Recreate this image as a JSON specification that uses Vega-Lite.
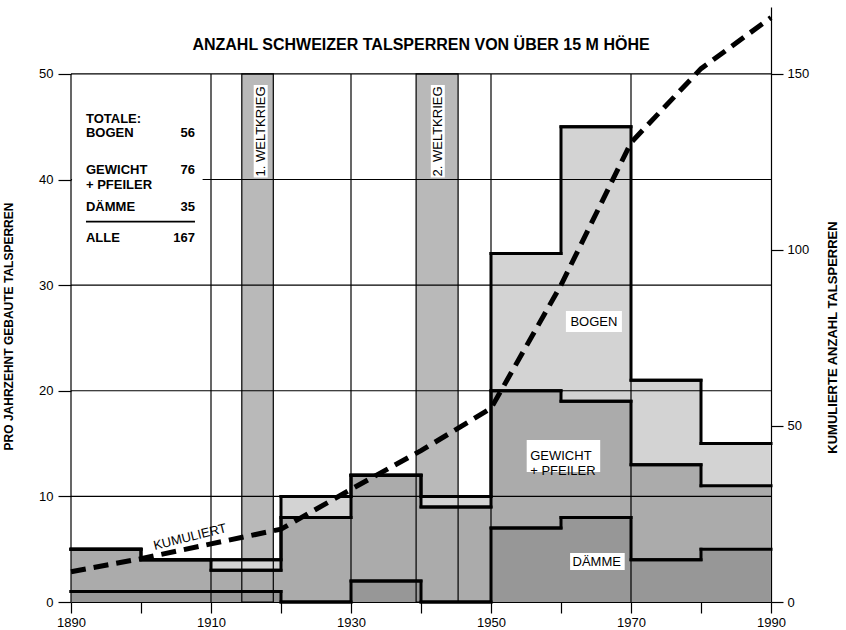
{
  "$schema": "https://vega.github.io/schema/vega-lite/v6.json",
  "width": 700,
  "height": 595,
  "autosize": {"type": "none"},
  "padding": {"left": 71, "top": 7, "right": 75, "bottom": 28},
  "background": "white",
  "config": {
    "font": "Liberation Sans",
    "view": {"stroke": null},
    "axis": {
      "domainColor": "black", "tickColor": "black", "labelColor": "black", "titleColor": "black",
      "domainWidth": 1.2, "tickWidth": 1.2, "labelFont": "Liberation Sans", "labelFontSize": 13,
      "titleFont": "Liberation Sans", "titleFontWeight": "bold", "grid": false
    },
    "text": {"font": "Liberation Sans", "fontSize": 13, "color": "black"}
  },
  "datasets": {
    "dekaden": [
      {"start": 1890, "ende": 1900, "typ": "Dämme", "anzahl": 1},
      {"start": 1890, "ende": 1900, "typ": "Gewicht", "anzahl": 4},
      {"start": 1890, "ende": 1900, "typ": "Bogen", "anzahl": 0},
      {"start": 1900, "ende": 1910, "typ": "Dämme", "anzahl": 1},
      {"start": 1900, "ende": 1910, "typ": "Gewicht", "anzahl": 3},
      {"start": 1900, "ende": 1910, "typ": "Bogen", "anzahl": 0},
      {"start": 1910, "ende": 1920, "typ": "Dämme", "anzahl": 1},
      {"start": 1910, "ende": 1920, "typ": "Gewicht", "anzahl": 2},
      {"start": 1910, "ende": 1920, "typ": "Bogen", "anzahl": 1},
      {"start": 1920, "ende": 1930, "typ": "Dämme", "anzahl": 0},
      {"start": 1920, "ende": 1930, "typ": "Gewicht", "anzahl": 8},
      {"start": 1920, "ende": 1930, "typ": "Bogen", "anzahl": 2},
      {"start": 1930, "ende": 1940, "typ": "Dämme", "anzahl": 2},
      {"start": 1930, "ende": 1940, "typ": "Gewicht", "anzahl": 10},
      {"start": 1930, "ende": 1940, "typ": "Bogen", "anzahl": 0},
      {"start": 1940, "ende": 1950, "typ": "Dämme", "anzahl": 0},
      {"start": 1940, "ende": 1950, "typ": "Gewicht", "anzahl": 9},
      {"start": 1940, "ende": 1950, "typ": "Bogen", "anzahl": 1},
      {"start": 1950, "ende": 1960, "typ": "Dämme", "anzahl": 7},
      {"start": 1950, "ende": 1960, "typ": "Gewicht", "anzahl": 13},
      {"start": 1950, "ende": 1960, "typ": "Bogen", "anzahl": 13},
      {"start": 1960, "ende": 1970, "typ": "Dämme", "anzahl": 8},
      {"start": 1960, "ende": 1970, "typ": "Gewicht", "anzahl": 11},
      {"start": 1960, "ende": 1970, "typ": "Bogen", "anzahl": 26},
      {"start": 1970, "ende": 1980, "typ": "Dämme", "anzahl": 4},
      {"start": 1970, "ende": 1980, "typ": "Gewicht", "anzahl": 9},
      {"start": 1970, "ende": 1980, "typ": "Bogen", "anzahl": 8},
      {"start": 1980, "ende": 1990, "typ": "Dämme", "anzahl": 5},
      {"start": 1980, "ende": 1990, "typ": "Gewicht", "anzahl": 6},
      {"start": 1980, "ende": 1990, "typ": "Bogen", "anzahl": 4}
    ],
    "kumuliert": [
      {"jahr": 1890, "summe": 8.6},
      {"jahr": 1900, "summe": 12.3},
      {"jahr": 1910, "summe": 16.5},
      {"jahr": 1920, "summe": 20.7},
      {"jahr": 1930, "summe": 32},
      {"jahr": 1940, "summe": 43},
      {"jahr": 1950, "summe": 55},
      {"jahr": 1960, "summe": 90},
      {"jahr": 1970, "summe": 130.5},
      {"jahr": 1980, "summe": 151.5},
      {"jahr": 1990, "summe": 166}
    ],
    "kriege": [
      {"name": "1. WELTKRIEG", "von": 1914.4, "bis": 1918.9, "mitte": 1917.1, "b1": 1916.1, "b2": 1918.1},
      {"name": "2. WELTKRIEG", "von": 1939.3, "bis": 1945.3, "mitte": 1942.4, "b1": 1941.4, "b2": 1943.4}
    ],
    "boxen": [
      {"x1": 1960.7, "x2": 1968.7, "y1": 25.56, "y2": 27.55},
      {"x1": 1955.1, "x2": 1965.6, "y1": 12.31, "y2": 15.34},
      {"x1": 1961.3, "x2": 1969.1, "y1": 3.03, "y2": 4.64},
      {"x1": 1890.15, "x2": 1908.8, "y1": 33.3, "y2": 47.1}
    ],
    "beschriftung": [
      {"t": "BOGEN", "x": 1964.7, "y": 26.54},
      {"t": "DÄMME", "x": 1965.1, "y": 3.83}
    ],
    "legende": [
      {"t": "TOTALE:", "y": 45.73},
      {"t": "BOGEN", "y": 44.43},
      {"t": "GEWICHT\n+ PFEILER", "y": 40.9},
      {"t": "DÄMME", "y": 37.43},
      {"t": "ALLE", "y": 34.49}
    ],
    "totale": [
      {"t": "56", "y": 44.43},
      {"t": "76", "y": 40.9},
      {"t": "35", "y": 37.43},
      {"t": "167", "y": 34.49}
    ]
  },
  "layer": [
    {
      "layer": [
        {
          "data": {"name": "kriege"},
          "mark": {"type": "rect", "fill": "#b9b9b9"},
          "encoding": {
            "x": {"field": "von", "type": "quantitative", "scale": {"domain": [1890, 1990], "nice": false, "zero": false}, "axis": {"orient": "bottom", "values": [1890, 1900, 1910, 1920, 1930, 1940, 1950, 1960, 1970, 1980, 1990], "format": "d", "labelExpr": "(datum.value - 1890) % 20 == 0 ? datum.label : ''", "tickSize": 11, "labelPadding": 3, "title": null, "labelFlush": false, "labelOverlap": false}},
            "x2": {"field": "bis"},
            "y": {"datum": 0, "type": "quantitative", "scale": {"domain": [0, 56.3333], "nice": false, "zero": true}, "axis": {"orient": "left", "values": [0, 10, 20, 30, 40, 50], "tickSize": 13, "labelPadding": 5, "domain": false, "title": "PRO JAHRZEHNT GEBAUTE TALSPERREN", "titleFontSize": 12, "titleAngle": -90, "titleX": -63, "titleY": 319, "titleBaseline": "middle", "titleAlign": "center"}},
            "y2": {"datum": 50}
          }
        },
        {
          "data": {"name": "dekaden"},
          "transform": [
            {"calculate": "indexof(['Dämme','Gewicht','Bogen'], datum.typ)", "as": "ord"},
            {"stack": "anzahl", "groupby": ["start"], "sort": [{"field": "ord", "order": "ascending"}], "as": ["lo", "hi"]}
          ],
          "mark": {"type": "rect"},
          "encoding": {
            "x": {"field": "start", "type": "quantitative", "scale": {"domain": [1890, 1990], "nice": false, "zero": false}, "axis": {"orient": "bottom", "values": [1890, 1900, 1910, 1920, 1930, 1940, 1950, 1960, 1970, 1980, 1990], "format": "d", "labelExpr": "(datum.value - 1890) % 20 == 0 ? datum.label : ''", "tickSize": 11, "labelPadding": 3, "title": null, "labelFlush": false, "labelOverlap": false}},
            "x2": {"field": "ende"},
            "y": {"field": "lo", "type": "quantitative", "scale": {"domain": [0, 56.3333], "nice": false, "zero": true}, "axis": {"orient": "left", "values": [0, 10, 20, 30, 40, 50], "tickSize": 13, "labelPadding": 5, "domain": false, "title": "PRO JAHRZEHNT GEBAUTE TALSPERREN", "titleFontSize": 12, "titleAngle": -90, "titleX": -63, "titleY": 319, "titleBaseline": "middle", "titleAlign": "center"}},
            "y2": {"field": "hi"},
            "color": {
              "field": "typ", "type": "nominal",
              "scale": {"domain": ["Dämme", "Gewicht", "Bogen"], "range": ["#979797", "#ababab", "#d3d3d3"]},
              "legend": null
            }
          }
        },
        {
          "data": {"values": [{"g": 10}, {"g": 20}, {"g": 30}, {"g": 40}, {"g": 50}]},
          "mark": {"type": "rule", "color": "black", "strokeWidth": 1.2},
          "encoding": {
            "y": {"field": "g", "type": "quantitative", "scale": {"domain": [0, 56.3333], "nice": false, "zero": true}, "axis": {"orient": "left", "values": [0, 10, 20, 30, 40, 50], "tickSize": 13, "labelPadding": 5, "domain": false, "title": "PRO JAHRZEHNT GEBAUTE TALSPERREN", "titleFontSize": 12, "titleAngle": -90, "titleX": -63, "titleY": 319, "titleBaseline": "middle", "titleAlign": "center"}},
            "x": {"datum": 1890, "type": "quantitative", "scale": {"domain": [1890, 1990], "nice": false, "zero": false}, "axis": {"orient": "bottom", "values": [1890, 1900, 1910, 1920, 1930, 1940, 1950, 1960, 1970, 1980, 1990], "format": "d", "labelExpr": "(datum.value - 1890) % 20 == 0 ? datum.label : ''", "tickSize": 11, "labelPadding": 3, "title": null, "labelFlush": false, "labelOverlap": false}},
            "x2": {"datum": 1990}
          }
        },
        {
          "data": {"values": [{"j": 1890}, {"j": 1910}, {"j": 1930}, {"j": 1950}, {"j": 1970}]},
          "mark": {"type": "rule", "color": "black", "strokeWidth": 1.2},
          "encoding": {
            "x": {"field": "j", "type": "quantitative", "scale": {"domain": [1890, 1990], "nice": false, "zero": false}, "axis": {"orient": "bottom", "values": [1890, 1900, 1910, 1920, 1930, 1940, 1950, 1960, 1970, 1980, 1990], "format": "d", "labelExpr": "(datum.value - 1890) % 20 == 0 ? datum.label : ''", "tickSize": 11, "labelPadding": 3, "title": null, "labelFlush": false, "labelOverlap": false}},
            "y": {"datum": 0, "type": "quantitative", "scale": {"domain": [0, 56.3333], "nice": false, "zero": true}, "axis": {"orient": "left", "values": [0, 10, 20, 30, 40, 50], "tickSize": 13, "labelPadding": 5, "domain": false, "title": "PRO JAHRZEHNT GEBAUTE TALSPERREN", "titleFontSize": 12, "titleAngle": -90, "titleX": -63, "titleY": 319, "titleBaseline": "middle", "titleAlign": "center"}},
            "y2": {"datum": 50}
          }
        },
        {
          "data": {"name": "kriege"},
          "mark": {"type": "rect", "fillOpacity": 0, "stroke": "black", "strokeWidth": 1.2},
          "encoding": {
            "x": {"field": "von", "type": "quantitative", "scale": {"domain": [1890, 1990], "nice": false, "zero": false}, "axis": {"orient": "bottom", "values": [1890, 1900, 1910, 1920, 1930, 1940, 1950, 1960, 1970, 1980, 1990], "format": "d", "labelExpr": "(datum.value - 1890) % 20 == 0 ? datum.label : ''", "tickSize": 11, "labelPadding": 3, "title": null, "labelFlush": false, "labelOverlap": false}},
            "x2": {"field": "bis"},
            "y": {"datum": 0, "type": "quantitative", "scale": {"domain": [0, 56.3333], "nice": false, "zero": true}, "axis": {"orient": "left", "values": [0, 10, 20, 30, 40, 50], "tickSize": 13, "labelPadding": 5, "domain": false, "title": "PRO JAHRZEHNT GEBAUTE TALSPERREN", "titleFontSize": 12, "titleAngle": -90, "titleX": -63, "titleY": 319, "titleBaseline": "middle", "titleAlign": "center"}},
            "y2": {"datum": 50}
          }
        },
        {
          "data": {"name": "dekaden"},
          "transform": [
            {"calculate": "indexof(['Dämme','Gewicht','Bogen'], datum.typ)", "as": "ord"},
            {"stack": "anzahl", "groupby": ["start"], "sort": [{"field": "ord", "order": "ascending"}], "as": ["lo", "hi"]}
          ],
          "mark": {"type": "rule", "color": "black", "strokeWidth": 3, "strokeCap": "square"},
          "encoding": {
            "x": {"field": "start", "type": "quantitative", "scale": {"domain": [1890, 1990], "nice": false, "zero": false}, "axis": {"orient": "bottom", "values": [1890, 1900, 1910, 1920, 1930, 1940, 1950, 1960, 1970, 1980, 1990], "format": "d", "labelExpr": "(datum.value - 1890) % 20 == 0 ? datum.label : ''", "tickSize": 11, "labelPadding": 3, "title": null, "labelFlush": false, "labelOverlap": false}},
            "x2": {"field": "ende"},
            "y": {"field": "hi", "type": "quantitative", "scale": {"domain": [0, 56.3333], "nice": false, "zero": true}, "axis": {"orient": "left", "values": [0, 10, 20, 30, 40, 50], "tickSize": 13, "labelPadding": 5, "domain": false, "title": "PRO JAHRZEHNT GEBAUTE TALSPERREN", "titleFontSize": 12, "titleAngle": -90, "titleX": -63, "titleY": 319, "titleBaseline": "middle", "titleAlign": "center"}}
          }
        },
        {
          "data": {"name": "dekaden"},
          "transform": [
            {"calculate": "indexof(['Dämme','Gewicht','Bogen'], datum.typ)", "as": "ord"},
            {"stack": "anzahl", "groupby": ["start"], "sort": [{"field": "ord", "order": "ascending"}], "as": ["lo", "hi"]}
          ],
          "mark": {"type": "line", "color": "black", "strokeWidth": 3, "interpolate": "step-after", "strokeCap": "square"},
          "encoding": {
            "x": {"field": "start", "type": "quantitative", "scale": {"domain": [1890, 1990], "nice": false, "zero": false}, "axis": {"orient": "bottom", "values": [1890, 1900, 1910, 1920, 1930, 1940, 1950, 1960, 1970, 1980, 1990], "format": "d", "labelExpr": "(datum.value - 1890) % 20 == 0 ? datum.label : ''", "tickSize": 11, "labelPadding": 3, "title": null, "labelFlush": false, "labelOverlap": false}},
            "y": {"field": "hi", "type": "quantitative", "scale": {"domain": [0, 56.3333], "nice": false, "zero": true}, "axis": {"orient": "left", "values": [0, 10, 20, 30, 40, 50], "tickSize": 13, "labelPadding": 5, "domain": false, "title": "PRO JAHRZEHNT GEBAUTE TALSPERREN", "titleFontSize": 12, "titleAngle": -90, "titleX": -63, "titleY": 319, "titleBaseline": "middle", "titleAlign": "center"}},
            "detail": {"field": "typ", "type": "nominal"}
          }
        },
        {
          "data": {"name": "boxen"},
          "mark": {"type": "rect", "fill": "white"},
          "encoding": {
            "x": {"field": "x1", "type": "quantitative", "scale": {"domain": [1890, 1990], "nice": false, "zero": false}, "axis": {"orient": "bottom", "values": [1890, 1900, 1910, 1920, 1930, 1940, 1950, 1960, 1970, 1980, 1990], "format": "d", "labelExpr": "(datum.value - 1890) % 20 == 0 ? datum.label : ''", "tickSize": 11, "labelPadding": 3, "title": null, "labelFlush": false, "labelOverlap": false}},
            "x2": {"field": "x2"},
            "y": {"field": "y1", "type": "quantitative", "scale": {"domain": [0, 56.3333], "nice": false, "zero": true}, "axis": {"orient": "left", "values": [0, 10, 20, 30, 40, 50], "tickSize": 13, "labelPadding": 5, "domain": false, "title": "PRO JAHRZEHNT GEBAUTE TALSPERREN", "titleFontSize": 12, "titleAngle": -90, "titleX": -63, "titleY": 319, "titleBaseline": "middle", "titleAlign": "center"}},
            "y2": {"field": "y2"}
          }
        },
        {
          "data": {"name": "kriege"},
          "mark": {"type": "rect", "fill": "white"},
          "encoding": {
            "x": {"field": "b1", "type": "quantitative", "scale": {"domain": [1890, 1990], "nice": false, "zero": false}, "axis": {"orient": "bottom", "values": [1890, 1900, 1910, 1920, 1930, 1940, 1950, 1960, 1970, 1980, 1990], "format": "d", "labelExpr": "(datum.value - 1890) % 20 == 0 ? datum.label : ''", "tickSize": 11, "labelPadding": 3, "title": null, "labelFlush": false, "labelOverlap": false}},
            "x2": {"field": "b2"},
            "y": {"datum": 40.2, "type": "quantitative", "scale": {"domain": [0, 56.3333], "nice": false, "zero": true}, "axis": {"orient": "left", "values": [0, 10, 20, 30, 40, 50], "tickSize": 13, "labelPadding": 5, "domain": false, "title": "PRO JAHRZEHNT GEBAUTE TALSPERREN", "titleFontSize": 12, "titleAngle": -90, "titleX": -63, "titleY": 319, "titleBaseline": "middle", "titleAlign": "center"}},
            "y2": {"datum": 48.95}
          }
        },
        {
          "data": {"name": "kriege"},
          "mark": {"type": "text", "angle": 270, "align": "center", "baseline": "middle", "fontSize": 13},
          "encoding": {
            "x": {"field": "mitte", "type": "quantitative", "scale": {"domain": [1890, 1990], "nice": false, "zero": false}, "axis": {"orient": "bottom", "values": [1890, 1900, 1910, 1920, 1930, 1940, 1950, 1960, 1970, 1980, 1990], "format": "d", "labelExpr": "(datum.value - 1890) % 20 == 0 ? datum.label : ''", "tickSize": 11, "labelPadding": 3, "title": null, "labelFlush": false, "labelOverlap": false}},
            "y": {"datum": 44.55, "type": "quantitative", "scale": {"domain": [0, 56.3333], "nice": false, "zero": true}, "axis": {"orient": "left", "values": [0, 10, 20, 30, 40, 50], "tickSize": 13, "labelPadding": 5, "domain": false, "title": "PRO JAHRZEHNT GEBAUTE TALSPERREN", "titleFontSize": 12, "titleAngle": -90, "titleX": -63, "titleY": 319, "titleBaseline": "middle", "titleAlign": "center"}},
            "text": {"field": "name", "type": "nominal"}
          }
        },
        {
          "data": {"name": "beschriftung"},
          "mark": {"type": "text", "align": "center", "baseline": "middle", "fontSize": 13},
          "encoding": {
            "x": {"field": "x", "type": "quantitative", "scale": {"domain": [1890, 1990], "nice": false, "zero": false}, "axis": {"orient": "bottom", "values": [1890, 1900, 1910, 1920, 1930, 1940, 1950, 1960, 1970, 1980, 1990], "format": "d", "labelExpr": "(datum.value - 1890) % 20 == 0 ? datum.label : ''", "tickSize": 11, "labelPadding": 3, "title": null, "labelFlush": false, "labelOverlap": false}},
            "y": {"field": "y", "type": "quantitative", "scale": {"domain": [0, 56.3333], "nice": false, "zero": true}, "axis": {"orient": "left", "values": [0, 10, 20, 30, 40, 50], "tickSize": 13, "labelPadding": 5, "domain": false, "title": "PRO JAHRZEHNT GEBAUTE TALSPERREN", "titleFontSize": 12, "titleAngle": -90, "titleX": -63, "titleY": 319, "titleBaseline": "middle", "titleAlign": "center"}},
            "text": {"field": "t", "type": "nominal"}
          }
        },
        {
          "data": {"values": [{"t": "GEWICHT\n+ PFEILER"}]},
          "mark": {"type": "text", "align": "left", "baseline": "middle", "fontSize": 13, "lineBreak": "\n", "lineHeight": 15},
          "encoding": {
            "x": {"datum": 1955.6, "type": "quantitative", "scale": {"domain": [1890, 1990], "nice": false, "zero": false}, "axis": {"orient": "bottom", "values": [1890, 1900, 1910, 1920, 1930, 1940, 1950, 1960, 1970, 1980, 1990], "format": "d", "labelExpr": "(datum.value - 1890) % 20 == 0 ? datum.label : ''", "tickSize": 11, "labelPadding": 3, "title": null, "labelFlush": false, "labelOverlap": false}},
            "y": {"datum": 13.78, "type": "quantitative", "scale": {"domain": [0, 56.3333], "nice": false, "zero": true}, "axis": {"orient": "left", "values": [0, 10, 20, 30, 40, 50], "tickSize": 13, "labelPadding": 5, "domain": false, "title": "PRO JAHRZEHNT GEBAUTE TALSPERREN", "titleFontSize": 12, "titleAngle": -90, "titleX": -63, "titleY": 319, "titleBaseline": "middle", "titleAlign": "center"}},
            "text": {"field": "t", "type": "nominal"}
          }
        },
        {
          "data": {"values": [{"t": "KUMULIERT"}]},
          "mark": {"type": "text", "align": "center", "baseline": "middle", "fontSize": 13, "angle": -14},
          "encoding": {
            "x": {"datum": 1907.0, "type": "quantitative", "scale": {"domain": [1890, 1990], "nice": false, "zero": false}, "axis": {"orient": "bottom", "values": [1890, 1900, 1910, 1920, 1930, 1940, 1950, 1960, 1970, 1980, 1990], "format": "d", "labelExpr": "(datum.value - 1890) % 20 == 0 ? datum.label : ''", "tickSize": 11, "labelPadding": 3, "title": null, "labelFlush": false, "labelOverlap": false}},
            "y": {"datum": 6.15, "type": "quantitative", "scale": {"domain": [0, 56.3333], "nice": false, "zero": true}, "axis": {"orient": "left", "values": [0, 10, 20, 30, 40, 50], "tickSize": 13, "labelPadding": 5, "domain": false, "title": "PRO JAHRZEHNT GEBAUTE TALSPERREN", "titleFontSize": 12, "titleAngle": -90, "titleX": -63, "titleY": 319, "titleBaseline": "middle", "titleAlign": "center"}},
            "text": {"field": "t", "type": "nominal"}
          }
        },
        {
          "data": {"name": "legende"},
          "mark": {"type": "text", "align": "left", "baseline": "middle", "fontSize": 13, "fontWeight": "bold", "lineBreak": "\n", "lineHeight": 15},
          "encoding": {
            "x": {"datum": 1892.14, "type": "quantitative", "scale": {"domain": [1890, 1990], "nice": false, "zero": false}, "axis": {"orient": "bottom", "values": [1890, 1900, 1910, 1920, 1930, 1940, 1950, 1960, 1970, 1980, 1990], "format": "d", "labelExpr": "(datum.value - 1890) % 20 == 0 ? datum.label : ''", "tickSize": 11, "labelPadding": 3, "title": null, "labelFlush": false, "labelOverlap": false}},
            "y": {"field": "y", "type": "quantitative", "scale": {"domain": [0, 56.3333], "nice": false, "zero": true}, "axis": {"orient": "left", "values": [0, 10, 20, 30, 40, 50], "tickSize": 13, "labelPadding": 5, "domain": false, "title": "PRO JAHRZEHNT GEBAUTE TALSPERREN", "titleFontSize": 12, "titleAngle": -90, "titleX": -63, "titleY": 319, "titleBaseline": "middle", "titleAlign": "center"}},
            "text": {"field": "t", "type": "nominal"}
          }
        },
        {
          "data": {"name": "totale"},
          "mark": {"type": "text", "align": "right", "baseline": "middle", "fontSize": 13, "fontWeight": "bold"},
          "encoding": {
            "x": {"datum": 1907.71, "type": "quantitative", "scale": {"domain": [1890, 1990], "nice": false, "zero": false}, "axis": {"orient": "bottom", "values": [1890, 1900, 1910, 1920, 1930, 1940, 1950, 1960, 1970, 1980, 1990], "format": "d", "labelExpr": "(datum.value - 1890) % 20 == 0 ? datum.label : ''", "tickSize": 11, "labelPadding": 3, "title": null, "labelFlush": false, "labelOverlap": false}},
            "y": {"field": "y", "type": "quantitative", "scale": {"domain": [0, 56.3333], "nice": false, "zero": true}, "axis": {"orient": "left", "values": [0, 10, 20, 30, 40, 50], "tickSize": 13, "labelPadding": 5, "domain": false, "title": "PRO JAHRZEHNT GEBAUTE TALSPERREN", "titleFontSize": 12, "titleAngle": -90, "titleX": -63, "titleY": 319, "titleBaseline": "middle", "titleAlign": "center"}},
            "text": {"field": "t", "type": "nominal"}
          }
        },
        {
          "data": {"values": [{"s": 1}]},
          "mark": {"type": "rule", "color": "black", "strokeWidth": 1.6},
          "encoding": {
            "x": {"datum": 1892.14, "type": "quantitative", "scale": {"domain": [1890, 1990], "nice": false, "zero": false}, "axis": {"orient": "bottom", "values": [1890, 1900, 1910, 1920, 1930, 1940, 1950, 1960, 1970, 1980, 1990], "format": "d", "labelExpr": "(datum.value - 1890) % 20 == 0 ? datum.label : ''", "tickSize": 11, "labelPadding": 3, "title": null, "labelFlush": false, "labelOverlap": false}},
            "x2": {"datum": 1907.71},
            "y": {"datum": 36.01, "type": "quantitative", "scale": {"domain": [0, 56.3333], "nice": false, "zero": true}, "axis": {"orient": "left", "values": [0, 10, 20, 30, 40, 50], "tickSize": 13, "labelPadding": 5, "domain": false, "title": "PRO JAHRZEHNT GEBAUTE TALSPERREN", "titleFontSize": 12, "titleAngle": -90, "titleX": -63, "titleY": 319, "titleBaseline": "middle", "titleAlign": "center"}}
          }
        },
        {
          "data": {"values": [{"t": "ANZAHL SCHWEIZER TALSPERREN VON ÜBER 15 M HÖHE"}]},
          "mark": {"type": "text", "align": "center", "baseline": "middle", "fontSize": 16, "fontWeight": "bold"},
          "encoding": {
            "x": {"datum": 1940, "type": "quantitative", "scale": {"domain": [1890, 1990], "nice": false, "zero": false}, "axis": {"orient": "bottom", "values": [1890, 1900, 1910, 1920, 1930, 1940, 1950, 1960, 1970, 1980, 1990], "format": "d", "labelExpr": "(datum.value - 1890) % 20 == 0 ? datum.label : ''", "tickSize": 11, "labelPadding": 3, "title": null, "labelFlush": false, "labelOverlap": false}},
            "y": {"datum": 52.74, "type": "quantitative", "scale": {"domain": [0, 56.3333], "nice": false, "zero": true}, "axis": {"orient": "left", "values": [0, 10, 20, 30, 40, 50], "tickSize": 13, "labelPadding": 5, "domain": false, "title": "PRO JAHRZEHNT GEBAUTE TALSPERREN", "titleFontSize": 12, "titleAngle": -90, "titleX": -63, "titleY": 319, "titleBaseline": "middle", "titleAlign": "center"}},
            "text": {"field": "t", "type": "nominal"}
          }
        }
      ]
    },
    {
      "data": {"name": "kumuliert"},
      "mark": {"type": "line", "color": "black", "strokeWidth": 5, "strokeDash": [15, 8], "strokeCap": "butt"},
      "encoding": {
        "x": {"field": "jahr", "type": "quantitative", "scale": {"domain": [1890, 1990], "nice": false, "zero": false}, "axis": {"orient": "bottom", "values": [1890, 1900, 1910, 1920, 1930, 1940, 1950, 1960, 1970, 1980, 1990], "format": "d", "labelExpr": "(datum.value - 1890) % 20 == 0 ? datum.label : ''", "tickSize": 11, "labelPadding": 3, "title": null, "labelFlush": false, "labelOverlap": false}},
        "y": {
          "field": "summe", "type": "quantitative",
          "scale": {"domain": [0, 169], "nice": false, "zero": true},
          "axis": {
            "orient": "right", "values": [0, 50, 100, 150], "tickSize": 12, "labelPadding": 4, "domain": true,
            "title": "KUMULIERTE ANZAHL TALSPERREN", "titleFontSize": 13, "titleAngle": -90,
            "titleX": 61, "titleY": 330, "titleBaseline": "middle", "titleAlign": "center"
          }
        }
      }
    }
  ],
  "resolve": {"scale": {"y": "independent"}, "axis": {"y": "independent"}}
}
